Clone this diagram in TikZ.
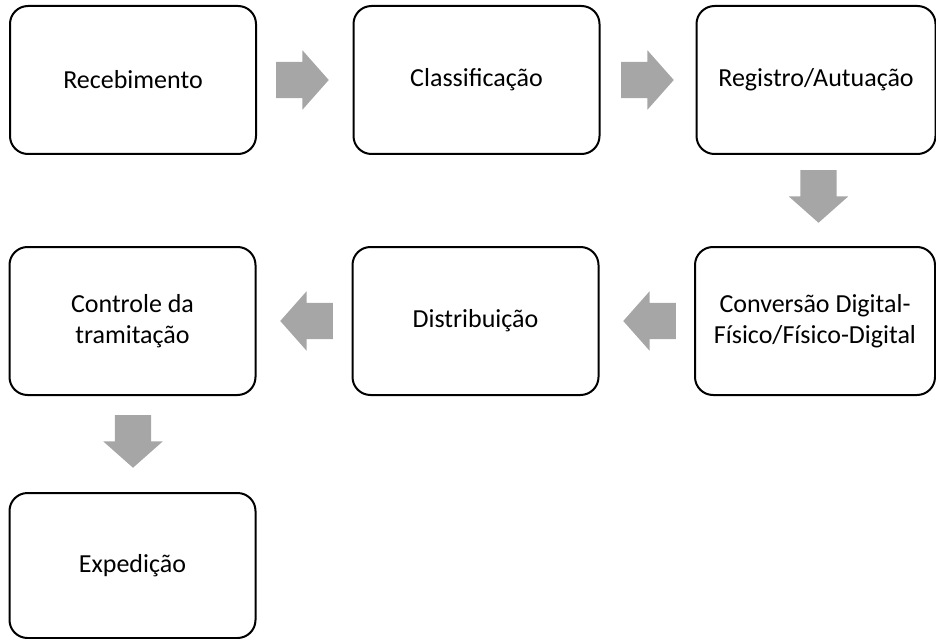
\documentclass[tikz,border=0pt]{standalone}
\usepackage{fontspec}
\setmainfont{Carlito}
\usetikzlibrary{shapes.arrows}

\begin{document}
\begin{tikzpicture}[x=1pt,y=-1pt]
\tikzstyle{every node}=[inner sep=0pt, font=\fontsize{26}{31}\selectfont, align=center]
\tikzstyle{etapa}=[draw, line width=2pt, rounded corners=18pt, minimum width=246pt, minimum height=148pt]
\tikzstyle{seta}=[single arrow, fill=black!35, inner sep=18pt, minimum height=52pt, single arrow head extend=11.5pt, single arrow tip angle=97, anchor=tip]
\useasboundingbox (0,0) rectangle (936,639);
\draw (133,80) node (rec) [etapa] {Recebimento};
\draw (476.5,80) node (cla) [etapa] {Classificação};
\draw (816,80) node (reg) [etapa, minimum width=239pt] {Registro/Autuação};
\draw (815,321) node (con) [etapa, minimum width=240pt] {Conversão Digital-\\Físico/Físico-Digital};
\draw (475.5,321) node (dis) [etapa] {Distribuição};
\draw (132.5,321) node (ctl) [etapa] {Controle da\\tramitação};
\draw (132.5,565.5) node (exp) [etapa, minimum height=145pt] {Expedição};
\draw (329,80) node (s1) [seta] {};
\draw (674,80) node (s2) [seta] {};
\draw (818.5,223) node (s3) [seta, shape border rotate=270] {};
\draw (623,321) node (s4) [seta, shape border rotate=180] {};
\draw (280,321) node (s5) [seta, shape border rotate=180] {};
\draw (133,468) node (s6) [seta, shape border rotate=270] {};
\end{tikzpicture}
\end{document}
